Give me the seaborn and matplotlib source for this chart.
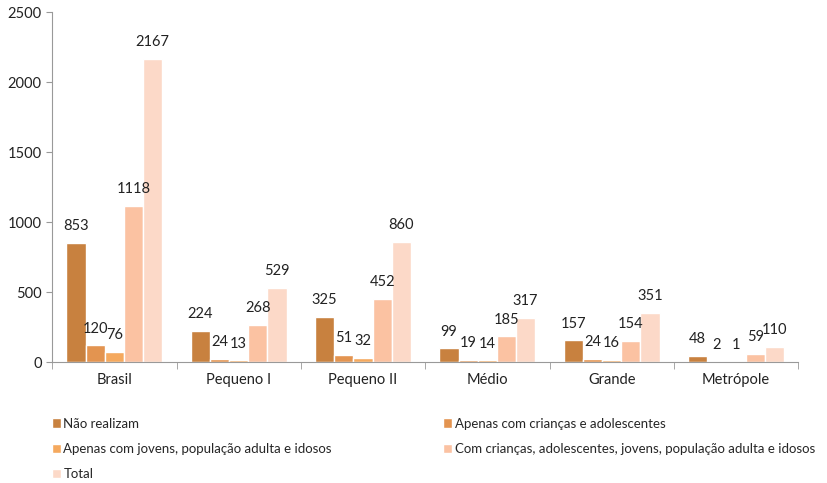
import matplotlib
matplotlib.use('Agg')
import matplotlib.pyplot as plt
import seaborn as sns
import pandas as pd

categories = ['Brasil', 'Pequeno I', 'Pequeno II', 'Médio', 'Grande', 'Metrópole']
series = ['Não realizam',
          'Apenas com crianças e adolescentes',
          'Apenas com jovens, população adulta e idosos',
          'Com crianças, adolescentes, jovens, população adulta e idosos',
          'Total']
nao_realizam = [853, 224, 325, 99, 157, 48]
criancas = [120, 24, 51, 19, 24, 2]
jovens = [76, 13, 32, 14, 16, 1]
todos = [1118, 268, 452, 185, 154, 59]
total = [2167, 529, 860, 317, 351, 110]
colors = ['#C8813F', '#E39450', '#F5A95E', '#FBC2A2', '#FCD9C8']

rows = []
for s, vals in zip(series, [nao_realizam, criancas, jovens, todos, total]):
    for c, v in zip(categories, vals):
        rows.append({'porte': c, 'serie': s, 'valor': v})
df = pd.DataFrame(rows)

sns.set_style('white')
plt.rcParams['font.family'] = ['Lato', 'DejaVu Sans']

fig = plt.figure(figsize=(8.28, 4.83), dpi=100)
ax = fig.add_axes([0.063, 0.25, 0.901, 0.725])
sns.barplot(data=df, x='porte', y='valor', hue='serie', palette=colors,
            width=0.77, saturation=1, ax=ax, legend=True)

for cont in ax.containers:
    ax.bar_label(cont, fmt='%d', padding=7, fontsize=10.5, color='#222222')

ax.set_ylim(0, 2500)
ax.set_yticks(range(0, 2501, 500))
ax.set_xlabel('')
ax.set_ylabel('')
for side in ['top', 'right']:
    ax.spines[side].set_visible(False)
for side in ['left', 'bottom']:
    ax.spines[side].set_color('#999999')
ax.tick_params(axis='both', labelsize=10.5, colors='#222222', length=4, color='#999999')
ax.tick_params(axis='y', direction='out', left=True)
ax.set_xticks([i - 0.5 for i in range(len(categories) + 1)], minor=True)
ax.tick_params(axis='x', which='major', bottom=False)
ax.tick_params(axis='x', which='minor', bottom=True, length=5, color='#999999')
ax.set_xlim(-0.5, len(categories) - 0.5)

handles, labels = ax.get_legend_handles_labels()
ax.legend_.remove()
order = [0, 2, 4, 1, 3]
fig.legend([handles[i] for i in order], [labels[i] for i in order],
           loc='upper left', bbox_to_anchor=(0.048, 0.16), ncol=2,
           frameon=False, fontsize=9.5, handlelength=0.7, handleheight=0.7,
           handletextpad=0.2, columnspacing=8.4, labelspacing=1.0)

plt.savefig('out.png', dpi=100)
